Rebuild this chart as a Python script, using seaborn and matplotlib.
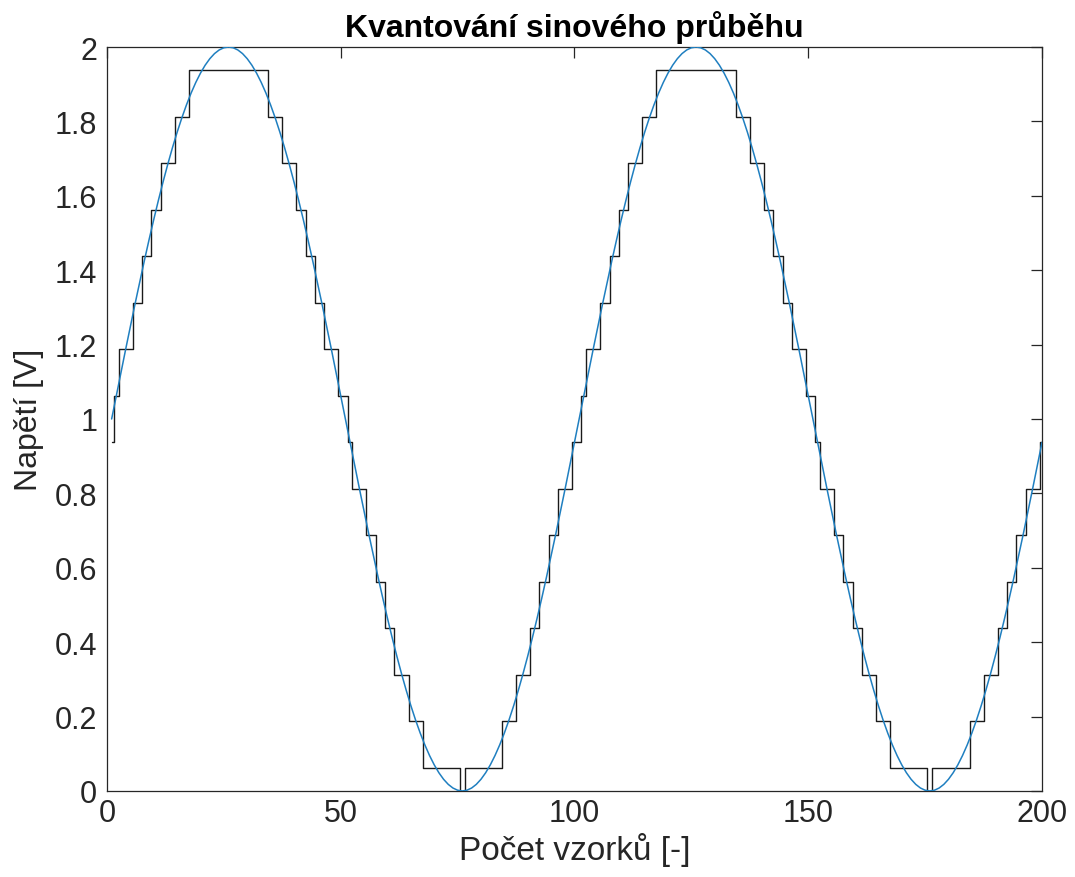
import numpy as np
import pandas as pd
import matplotlib
matplotlib.use("Agg")
import matplotlib.pyplot as plt
import seaborn as sns

# Sampled sine signal, one value per sample (samples 1..200), in volts
voltage = [
    1.0000, 1.0628, 1.1253, 1.1874, 1.2487, 1.3090, 1.3681, 1.4258, 1.4818, 1.5358,
    1.5878, 1.6374, 1.6845, 1.7290, 1.7705, 1.8090, 1.8443, 1.8763, 1.9048, 1.9298,
    1.9511, 1.9686, 1.9823, 1.9921, 1.9980, 2.0000, 1.9980, 1.9921, 1.9823, 1.9686,
    1.9511, 1.9298, 1.9048, 1.8763, 1.8443, 1.8090, 1.7705, 1.7290, 1.6845, 1.6374,
    1.5878, 1.5358, 1.4818, 1.4258, 1.3681, 1.3090, 1.2487, 1.1874, 1.1253, 1.0628,
    1.0000, 0.9372, 0.8747, 0.8126, 0.7513, 0.6910, 0.6319, 0.5742, 0.5182, 0.4642,
    0.4122, 0.3626, 0.3155, 0.2710, 0.2295, 0.1910, 0.1557, 0.1237, 0.0952, 0.0702,
    0.0489, 0.0314, 0.0177, 0.0079, 0.0020, 0.0000, 0.0020, 0.0079, 0.0177, 0.0314,
    0.0489, 0.0702, 0.0952, 0.1237, 0.1557, 0.1910, 0.2295, 0.2710, 0.3155, 0.3626,
    0.4122, 0.4642, 0.5182, 0.5742, 0.6319, 0.6910, 0.7513, 0.8126, 0.8747, 0.9372,
    1.0000, 1.0628, 1.1253, 1.1874, 1.2487, 1.3090, 1.3681, 1.4258, 1.4818, 1.5358,
    1.5878, 1.6374, 1.6845, 1.7290, 1.7705, 1.8090, 1.8443, 1.8763, 1.9048, 1.9298,
    1.9511, 1.9686, 1.9823, 1.9921, 1.9980, 2.0000, 1.9980, 1.9921, 1.9823, 1.9686,
    1.9511, 1.9298, 1.9048, 1.8763, 1.8443, 1.8090, 1.7705, 1.7290, 1.6845, 1.6374,
    1.5878, 1.5358, 1.4818, 1.4258, 1.3681, 1.3090, 1.2487, 1.1874, 1.1253, 1.0628,
    1.0000, 0.9372, 0.8747, 0.8126, 0.7513, 0.6910, 0.6319, 0.5742, 0.5182, 0.4642,
    0.4122, 0.3626, 0.3155, 0.2710, 0.2295, 0.1910, 0.1557, 0.1237, 0.0952, 0.0702,
    0.0489, 0.0314, 0.0177, 0.0079, 0.0020, 0.0000, 0.0020, 0.0079, 0.0177, 0.0314,
    0.0489, 0.0702, 0.0952, 0.1237, 0.1557, 0.1910, 0.2295, 0.2710, 0.3155, 0.3626,
    0.4122, 0.4642, 0.5182, 0.5742, 0.6319, 0.6910, 0.7513, 0.8126, 0.8747, 0.9372,
]

# Quantized signal as runs: level in volts and how many samples it holds
step_levels = [
    0.9375, 1.0625, 1.1875, 1.3125, 1.4375, 1.5625, 1.6875, 1.8125, 1.9375,
    1.8125, 1.6875, 1.5625, 1.4375, 1.3125, 1.1875, 1.0625, 0.9375,
    0.8125, 0.6875, 0.5625, 0.4375, 0.3125, 0.1875, 0.0625, -0.0625, 0.0625,
    0.1875, 0.3125, 0.4375, 0.5625, 0.6875, 0.8125,
    0.9375, 1.0625, 1.1875, 1.3125, 1.4375, 1.5625, 1.6875, 1.8125, 1.9375,
    1.8125, 1.6875, 1.5625, 1.4375, 1.3125, 1.1875, 1.0625, 0.9375,
    0.8125, 0.6875, 0.5625, 0.4375, 0.3125, 0.1875, 0.0625, -0.0625, 0.0625,
    0.1875, 0.3125, 0.4375, 0.5625, 0.6875, 0.8125, 0.9375,
]
step_lengths = [
    1, 1, 3, 2, 2, 2, 3, 3, 17,
    3, 3, 2, 2, 2, 3, 2, 1,
    3, 2, 2, 2, 3, 3, 8, 1, 8,
    3, 3, 2, 2, 2, 3,
    2, 1, 3, 2, 2, 2, 3, 3, 17,
    3, 3, 2, 2, 2, 3, 2, 1,
    3, 2, 2, 2, 3, 3, 8, 1, 8,
    3, 3, 2, 2, 2, 3, 1,
]

x_ticks = [0, 50, 100, 150, 200]
y_ticks = [0, 0.2, 0.4, 0.6, 0.8, 1.0, 1.2, 1.4, 1.6, 1.8, 2.0]
y_tick_labels = ["0", "0.2", "0.4", "0.6", "0.8", "1", "1.2", "1.4", "1.6", "1.8", "2"]

samples = np.arange(1, len(voltage) + 1)
quantized = np.repeat(step_levels, step_lengths)
df = pd.DataFrame({"vzorek": samples, "napeti": voltage, "kvant": quantized})

sns.set_theme(style="white")
plt.rcParams["font.family"] = ["Liberation Sans", "DejaVu Sans"]

axis_col = "#262626"
fig = plt.figure(figsize=(10.75, 8.78), dpi=100)
ax = fig.add_axes([0.0995, 0.098, 0.8698, 0.8473])

sns.lineplot(data=df, x="vzorek", y="kvant", ax=ax, color="#1a1a1a",
             linewidth=1.0, drawstyle="steps-mid", zorder=2)
sns.lineplot(data=df, x="vzorek", y="napeti", ax=ax, color="#1f7fc0",
             linewidth=1.1, zorder=3)

ax.set_xlim(0, 200)
ax.set_ylim(0, 2)
ax.set_xticks(x_ticks)
ax.set_xticklabels([str(t) for t in x_ticks])
ax.set_yticks(y_ticks)
ax.set_yticklabels(y_tick_labels)

ax.tick_params(direction="in", length=8, width=0.9, colors=axis_col,
               labelsize=22, top=True, right=True)
ax.tick_params(axis="x", pad=5)
ax.tick_params(axis="y", pad=7)
for side in ax.spines.values():
    side.set_color(axis_col)
    side.set_linewidth(0.9)

ax.set_title("Kvantování sinového průběhu", fontsize=23, fontweight="bold",
             color="black", pad=8)
ax.set_xlabel("Počet vzorků [-]", fontsize=24, color=axis_col, labelpad=3)
ax.set_ylabel("Napětí [V]", fontsize=23, color=axis_col, labelpad=8)

fig.savefig("out.png", dpi=100)
